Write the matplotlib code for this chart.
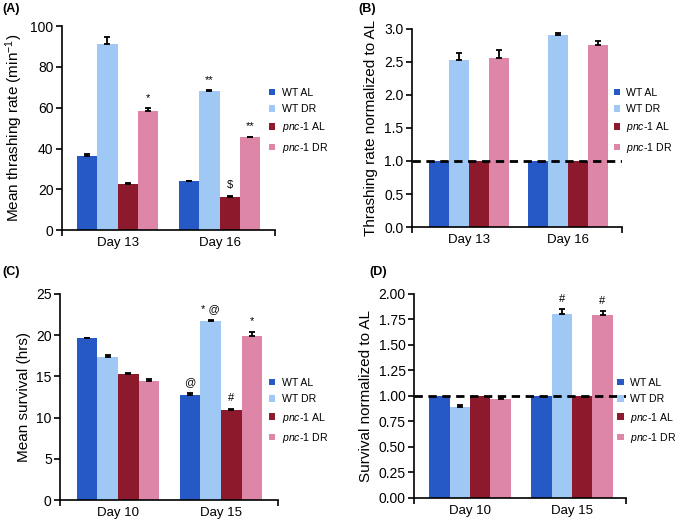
import matplotlib
matplotlib.use("Agg")
import matplotlib.pyplot as plt
import numpy as np

plt.rcParams['font.family'] = ['Liberation Sans', 'DejaVu Sans']
plt.rcParams['mathtext.fontset'] = 'custom'
plt.rcParams['mathtext.rm'] = 'Liberation Sans'
plt.rcParams['mathtext.it'] = 'Liberation Sans:italic'

# series
groupes = ['WT AL', 'WT DR', r'$\it{pnc}$-$\it{1}$ AL', r'$\it{pnc}$-$\it{1}$ DR']
couleurs = ['#2658c6', '#9fc9f4', '#8c1a2c', '#de86a8']

# (A) thrashing
jours_a = ['Day 13', 'Day 16']
thrash = [[36.5, 24.0], [91.0, 68.0], [22.5, 16.5], [58.5, 45.5]]
thrash_err = [[1.0, 0.3], [3.5, 0.6], [0.4, 0.3], [1.2, 0.3]]
thrash_sig = [['', ''], ['', '**'], ['', '$'], ['*', '**']]

# (B) thrashing normalized
thrash_n = [[1.0, 1.0], [2.52, 2.90], [1.0, 1.0], [2.55, 2.76]]
thrash_n_err = [[0, 0], [0.11, 0.03], [0, 0], [0.13, 0.06]]

# (C) survival
jours_c = ['Day 10', 'Day 15']
surv = [[19.6, 12.7], [17.4, 21.7], [15.3, 10.9], [14.5, 19.9]]
surv_err = [[0.1, 0.3], [0.2, 0.2], [0.15, 0.15], [0.15, 0.5]]
surv_sig = [['', '@'], ['', '* @'], ['', '#'], ['', '*']]

# (D) survival normalized
surv_n = [[1.0, 1.0], [0.89, 1.80], [1.0, 1.0], [0.97, 1.79]]
surv_n_err = [[0, 0], [0.02, 0.05], [0, 0], [0.02, 0.04]]
surv_n_sig = [['', ''], ['', '#'], ['', ''], ['', '#']]


def panneau(ax, jours, vals, errs, yticks, yfmt, ylabel, xlim, sig=None, ligne=False,
            leg_pos=(0, 0)):
    x = np.arange(len(jours))
    larg = 0.2
    for i, (v, e, c, lab) in enumerate(zip(vals, errs, couleurs, groupes)):
        pos = x + (i - 1.5) * larg
        ax.bar(pos, v, larg, color=c, label=lab, zorder=2)
        if max(e) > 0:
            ax.errorbar(pos, v, yerr=[np.zeros(len(e)), e], fmt='none', ecolor='black',
                        elinewidth=1.3, capsize=2, capthick=1.3, zorder=3)
        if sig:
            for j in range(len(jours)):
                if sig[i][j]:
                    ax.annotate(sig[i][j], (pos[j], v[j] + e[j]), xytext=(0, 4),
                                textcoords='offset points', ha='center', va='bottom',
                                fontsize=8)
    if ligne:
        ax.axhline(1.0, color='black', lw=2, ls=(0, (3, 2)), zorder=4)
    ax.set_xlim(xlim)
    ax.set_ylim(yticks[0], yticks[-1])
    ax.set_yticks(yticks)
    ax.set_yticklabels([yfmt.format(t) for t in yticks], fontsize=10)
    ax.set_xticks(x)
    ax.set_xticklabels(jours, fontsize=9.5)
    ax.tick_params(axis='x', length=0, pad=5)
    ax.set_xticks(xlim, minor=True)
    ax.tick_params(axis='x', which='minor', length=4, width=1.2, direction='out')
    ax.tick_params(axis='y', length=4, width=1.2, direction='out', pad=2)
    ax.spines[['top', 'right']].set_visible(False)
    for s in ['left', 'bottom']:
        ax.spines[s].set_linewidth(1.2)
    ax.set_ylabel(ylabel, fontsize=11, labelpad=4)
    ax.legend(loc='center left', bbox_to_anchor=leg_pos, bbox_transform=ax.figure.transFigure,
              frameon=False, fontsize=7.6, handlelength=0.6, handleheight=0.6,
              handletextpad=0.6, labelspacing=0.6, borderpad=0, borderaxespad=0)


fig = plt.figure(figsize=(6.76, 5.22), dpi=100)
axA = fig.add_axes([0.0913, 0.559, 0.3155, 0.391])
axB = fig.add_axes([0.609, 0.565, 0.3107, 0.380])
axC = fig.add_axes([0.0888, 0.0421, 0.3225, 0.3947])
axD = fig.add_axes([0.6124, 0.0466, 0.3136, 0.3904])

panneau(axA, jours_a, thrash, thrash_err, [0, 20, 40, 60, 80, 100], '{:.0f}',
        r'Mean thrashing rate (min$^{-1}$)', (-0.547, 1.544), sig=thrash_sig,
        leg_pos=(0.398, 0.768))
panneau(axB, jours_a, thrash_n, thrash_n_err, [0, 0.5, 1.0, 1.5, 2.0, 2.5, 3.0], '{:.1f}',
        'Thrashing rate normalized to AL', (-0.579, 1.542), ligne=True,
        leg_pos=(0.908, 0.768))
panneau(axC, jours_c, surv, surv_err, [0, 5, 10, 15, 20, 25], '{:.0f}',
        'Mean survival (hrs)', (-0.563, 1.553), sig=surv_sig,
        leg_pos=(0.398, 0.212))
panneau(axD, jours_c, surv_n, surv_n_err, [0, 0.25, 0.5, 0.75, 1.0, 1.25, 1.5, 1.75, 2.0],
        '{:.2f}', 'Survival normalized to AL', (-0.549, 1.53), sig=surv_n_sig, ligne=True,
        leg_pos=(0.913, 0.212))

for lettre, (px, py) in zip('ABCD', [(0.004, 0.995), (0.53, 0.995), (0.004, 0.49), (0.546, 0.49)]):
    fig.text(px, py, f'({lettre})', fontsize=9, fontweight='bold', ha='left', va='top')

fig.savefig('out.png', dpi=100)
